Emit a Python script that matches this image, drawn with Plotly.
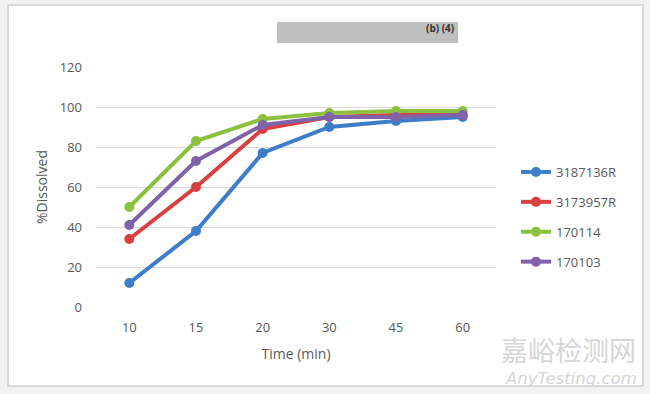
import plotly.graph_objects as go

time_labels = ["10", "15", "20", "30", "45", "60"]
series_names = ["3187136R", "3173957R", "170114", "170103"]
s_3187136R = [12, 38, 77, 90, 93, 95]
s_3173957R = [34, 60, 89, 95, 96, 96]
s_170114 = [50, 83, 94, 97, 98, 98]
s_170103 = [41, 73, 91, 95, 95, 96]
series_values = [s_3187136R, s_3173957R, s_170114, s_170103]
colors = ["#3d7dca", "#d8403f", "#8dc03f", "#8062a9"]

FONT = "Open Sans, Liberation Sans, sans-serif"
L, R, T, B = 96, 154, 67, 87
W, H = 650, 394
pw, ph = W - L - R, H - T - B

def px(x):
    return (x - L) / pw

def py(y):
    return (H - B - y) / ph

fig = go.Figure()
for i, (name, vals) in enumerate(zip(series_names, series_values)):
    fig.add_trace(go.Scatter(
        x=time_labels, y=vals, name=name, mode="lines+markers",
        line=dict(color=colors[i], width=4),
        marker=dict(color=colors[i], size=10),
        legendgroup=name,
    ))

fig.update_layout(
    width=W, height=H,
    margin=dict(l=L, r=R, t=T, b=B),
    paper_bgcolor="#f2f2f2",
    plot_bgcolor="white",
    font=dict(family=FONT, color="#595959", size=13),
    showlegend=True,
    legend=dict(
        x=px(516), y=py(157), xanchor="left", yanchor="top",
        bgcolor="rgba(0,0,0,0)", tracegroupgap=10,
        font=dict(size=13, color="#595959"),
    ),
    xaxis=dict(
        type="category", range=[-0.5, len(time_labels) - 0.5],
        showgrid=False, zeroline=False, showline=False,
        ticks="", tickfont=dict(size=13, color="#595959"),
        ticklabelstandoff=11,
        title=dict(text="Time (min)", font=dict(size=14, color="#595959"), standoff=14),
    ),
    yaxis=dict(
        range=[0, 120], dtick=20, showgrid=True, gridcolor="#d9d9d9", gridwidth=1,
        zeroline=False, showline=False, ticks="",
        tickfont=dict(size=13, color="#595959"),
        ticklabelstandoff=13,
        title=dict(text="%Dissolved", font=dict(size=14, color="#595959"), standoff=8),
    ),
    shapes=[
        dict(type="rect", xref="paper", yref="paper",
             x0=px(8), x1=px(643), y0=py(386), y1=py(5),
             fillcolor="white", line=dict(color="#d9d9d9", width=2), layer="below"),
        dict(type="rect", xref="paper", yref="paper",
             x0=px(277), x1=px(458), y0=py(43), y1=py(22),
             fillcolor="#bfbfbf", line=dict(width=0), layer="above"),
    ],
    annotations=[
        dict(text="<b>(b) (4)</b>", xref="paper", yref="paper",
             x=px(456), y=py(28), xanchor="right", yanchor="middle",
             showarrow=False, font=dict(size=10, color="#333333")),
        dict(text="嘉峪检测网", xref="paper", yref="paper",
             x=px(638), y=py(349), xanchor="right", yanchor="middle",
             showarrow=False,
             font=dict(size=27, color="#d6d6d6", family="Noto Sans CJK SC")),
        dict(text="<i>AnyTesting.com</i>", xref="paper", yref="paper",
             x=px(639), y=py(378), xanchor="right", yanchor="middle",
             showarrow=False,
             font=dict(size=16.5, color="#d6d6d6", family="DejaVu Sans, sans-serif")),
    ],
)

fig.write_html(
    "out.html",
    config={"displayModeBar": False},
    post_script="document.body.style.margin='0';document.body.style.background='#f2f2f2';",
)
